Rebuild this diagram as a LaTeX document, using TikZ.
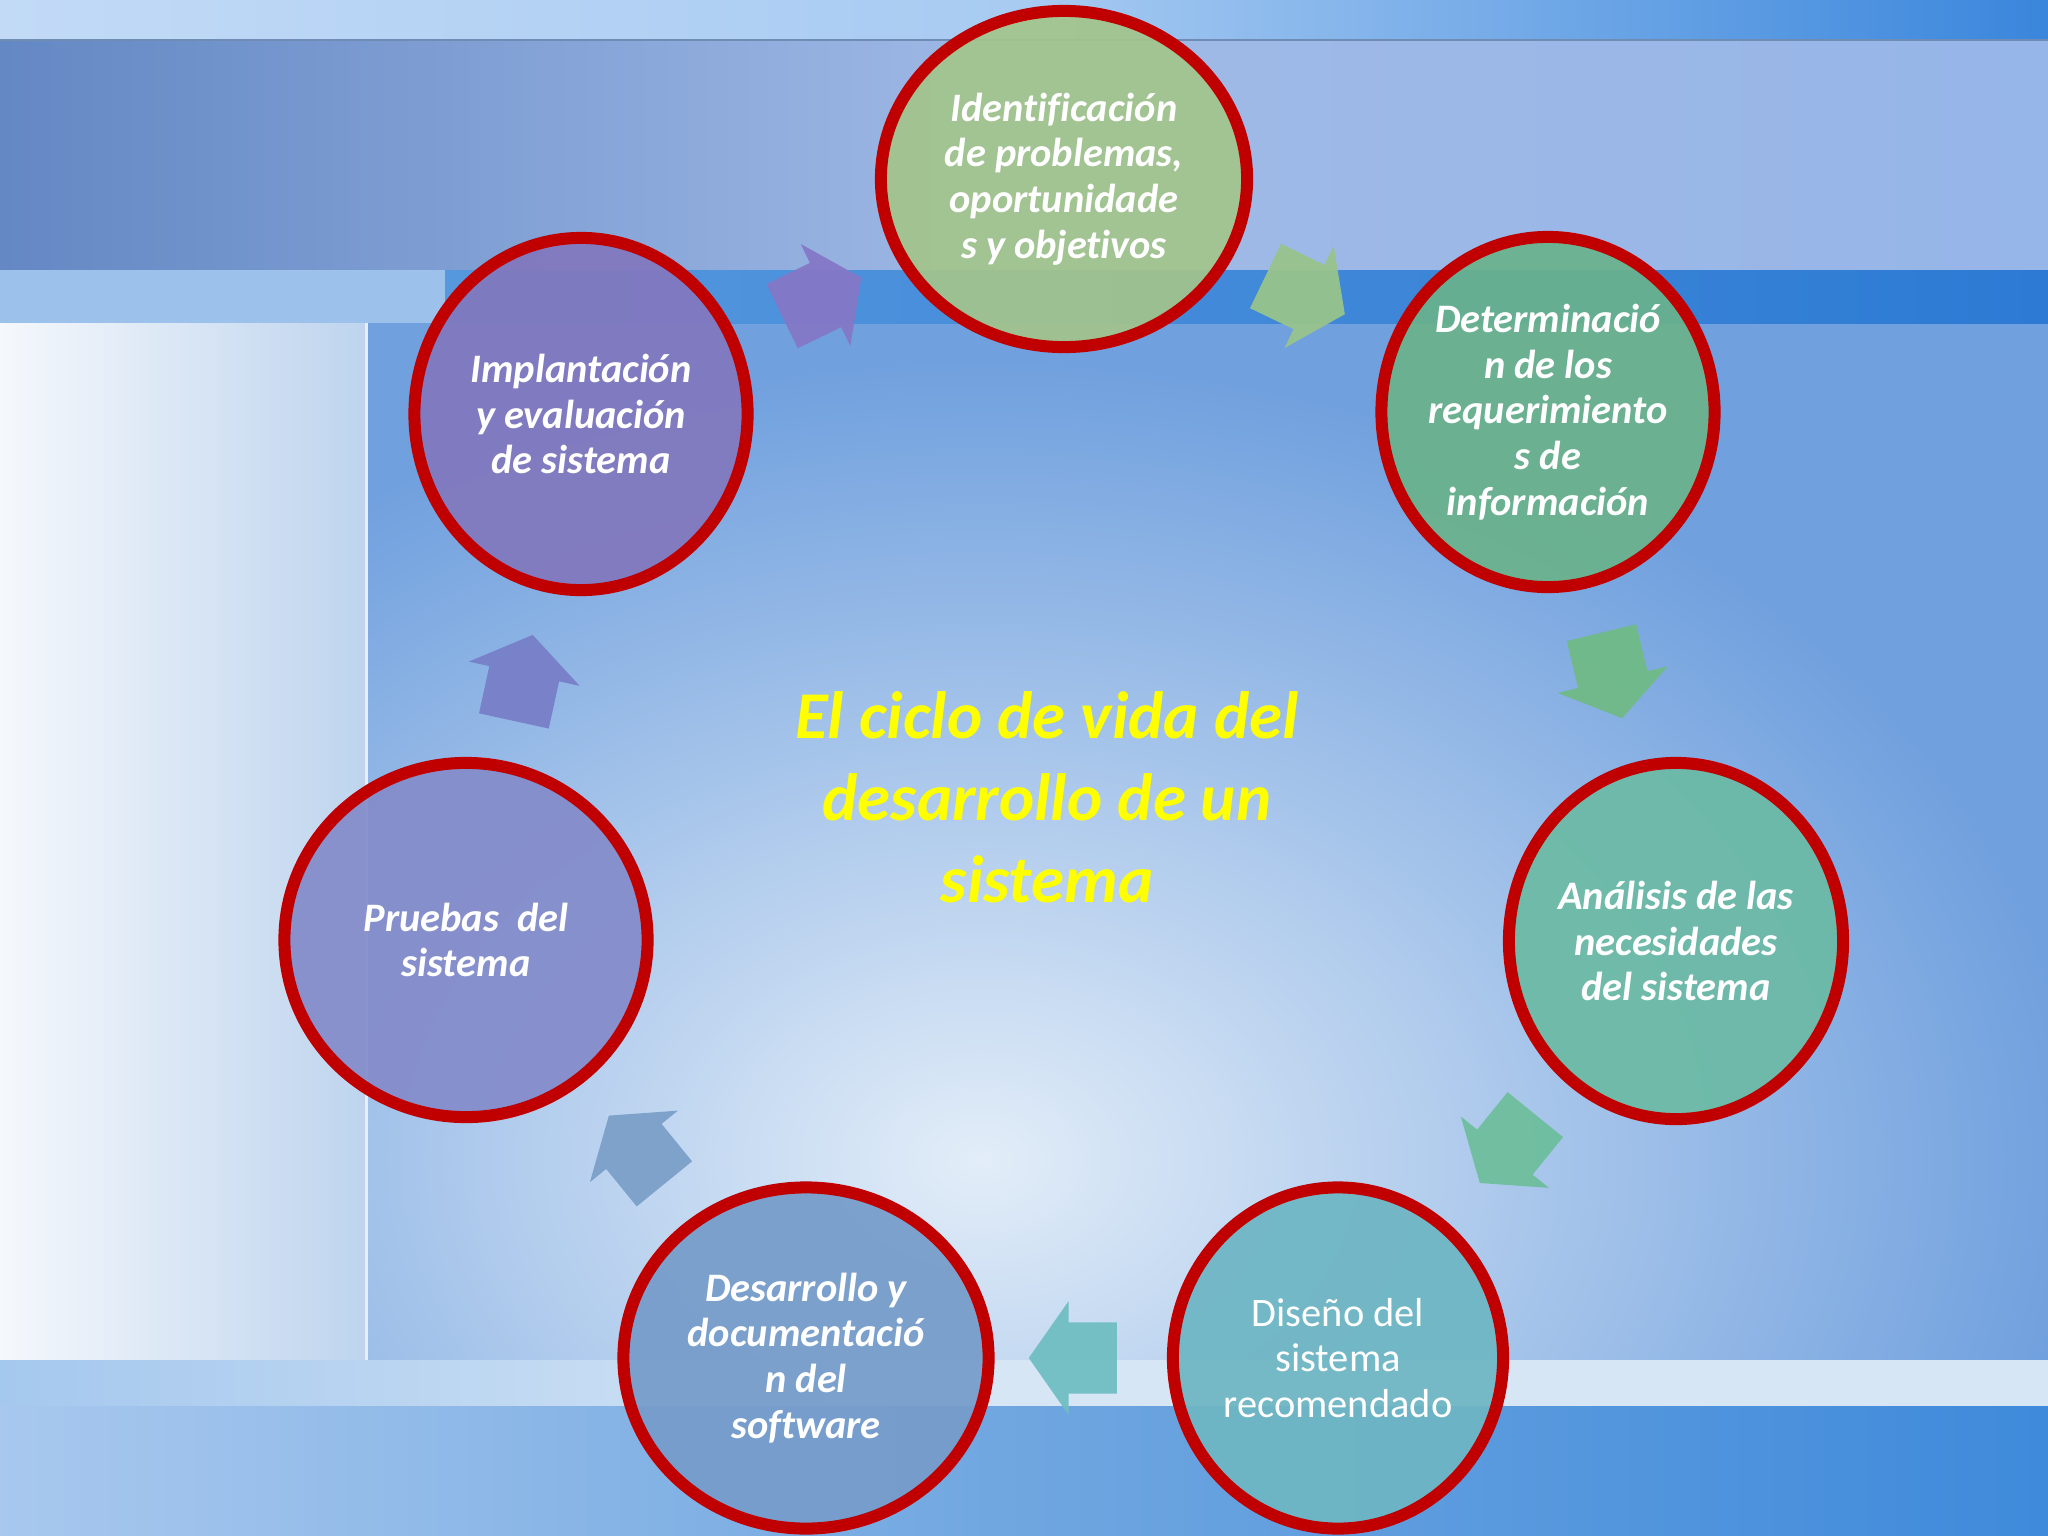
\documentclass[tikz,border=0pt]{standalone}
\usepackage{fontspec}
\setmainfont{Carlito}[Ligatures=NoCommon]
\usetikzlibrary{shapes.geometric,shapes.arrows}

\definecolor{ringred}{RGB}{192,0,0}
\definecolor{stageone}{RGB}{163,196,140}
\definecolor{stagetwo}{RGB}{106,178,140}
\definecolor{stagethree}{RGB}{108,186,165}
\definecolor{stagefour}{RGB}{110,182,196}
\definecolor{stagefive}{RGB}{118,156,202}
\definecolor{stagesix}{RGB}{132,140,202}
\definecolor{stageseven}{RGB}{130,120,190}
\definecolor{arrowseven}{RGB}{132,120,198}
\definecolor{arrowone}{RGB}{152,196,140}
\definecolor{arrowtwo}{RGB}{112,186,134}
\definecolor{arrowthree}{RGB}{110,190,158}
\definecolor{arrowfour}{RGB}{112,190,194}
\definecolor{arrowfive}{RGB}{124,160,202}
\definecolor{arrowsix}{RGB}{120,128,200}
\definecolor{bgmain}{RGB}{112,160,222}
\definecolor{glow}{RGB}{226,237,248}
\definecolor{titleyellow}{RGB}{255,255,0}

\tikzset{
  stage/.style={ellipse, draw=ringred, line width=0.12cm, fill opacity=0.93, inner sep=0pt},
  stagetext/.style={text=white, align=center, font=\bfseries\itshape\fontsize{11.5}{13}\selectfont},
  plaintext/.style={text=white, align=center, font=\fontsize{11.5}{13}\selectfont},
  titletext/.style={text=titleyellow, align=center, font=\bfseries\itshape\fontsize{19}{23.3}\selectfont},
  cyclearrow/.style={single arrow, draw=none, minimum height=0.88cm, inner xsep=0pt, inner ysep=0.35cm,
    single arrow head extend=0.21cm, single arrow head indent=0pt, single arrow tip angle=110,
    sloped, allow upside down, pos=0.475, fill opacity=0.95},
}

\begin{document}
\begin{tikzpicture}[x=0.01cm, y=-0.01cm]
\useasboundingbox (0,0) rectangle (2048,1536);
% fondo
\fill[bgmain] (0,0) rectangle (2048,1536);
\shade[left color={rgb,255:red,194;green,218;blue,246}, right color={rgb,255:red,58;green,134;blue,220}, middle color={rgb,255:red,168;green,203;blue,242}] (0,0) rectangle (2048,40);
\shade[left color={rgb,255:red,100;green,136;blue,196}, right color={rgb,255:red,150;green,181;blue,232}, middle color={rgb,255:red,160;green,186;blue,230}] (0,40) rectangle (2048,270);
\draw[line width=0.02cm, color={rgb,255:red,110;green,140;blue,180}] (0,40) -- (2048,40);
\fill[color={rgb,255:red,156;green,194;blue,236}] (0,270) rectangle (445,323);
\shade[left color={rgb,255:red,86;green,152;blue,222}, right color={rgb,255:red,44;green,122;blue,212}] (445,270) rectangle (2048,323);
\begin{scope}
\clip (366,323) rectangle (2048,1360);
\shade[inner color=glow, outer color=bgmain] (980,1160) ellipse [x radius=11cm, y radius=8cm];
\end{scope}
\shade[left color={rgb,255:red,245;green,248;blue,252}, right color={rgb,255:red,190;green,212;blue,238}] (0,323) rectangle (366,1360);
\draw[line width=0.03cm, color={rgb,255:red,230;green,240;blue,248}] (366,323) -- (366,1360);
\shade[left color={rgb,255:red,165;green,200;blue,238}, right color={rgb,255:red,213;green,229;blue,245}] (0,1360) rectangle (900,1406);
\fill[color={rgb,255:red,215;green,230;blue,245}] (900,1360) rectangle (2048,1406);
\shade[left color={rgb,255:red,168;green,200;blue,238}, right color={rgb,255:red,63;green,138;blue,219}, middle color={rgb,255:red,111;green,166;blue,224}] (0,1406) rectangle (2048,1536);

% etapas del ciclo
\node[stage, fill=stageone, minimum width=3.66cm, minimum height=3.36cm] (c1) at (1064,179) {};
\node[stage, fill=stagetwo, minimum width=3.33cm, minimum height=3.50cm] (c2) at (1548,412) {};
\node[stage, fill=stagethree, minimum width=3.34cm, minimum height=3.56cm] (c3) at (1676,941) {};
\node[stage, fill=stagefour, minimum width=3.30cm, minimum height=3.41cm] (c4) at (1338,1358) {};
\node[stage, fill=stagefive, minimum width=3.65cm, minimum height=3.41cm] (c5) at (806,1358) {};
\node[stage, fill=stagesix, minimum width=3.63cm, minimum height=3.54cm] (c6) at (466,940) {};
\node[stage, fill=stageseven, minimum width=3.33cm, minimum height=3.52cm] (c7) at (581,414) {};

\node[stagetext] (t1) at (c1) {Identificación\\de problemas,\\oportunidade\\s y objetivos};
\node[stagetext] (t2) at (c2) {Determinació\\n de los\\requerimiento\\s de\\información};
\node[stagetext] (t3) at (c3) {Análisis de las\\necesidades\\del sistema};
\node[plaintext] (t4) at (c4) {Diseño del\\sistema\\recomendado};
\node[stagetext] (t5) at (c5) {Desarrollo y\\documentació\\n del\\software};
\node[stagetext] (t6) at (c6) {Pruebas\ \ del\\sistema};
\node[stagetext] (t7) at (c7) {Implantación\\y evaluación\\de sistema};

% flechas
\path (c7.center) -- node[cyclearrow, fill=arrowseven] (a71) {} (c1.center);
\path (c1.center) -- node[cyclearrow, fill=arrowone] (a12) {} (c2.center);
\path (c2.center) -- node[cyclearrow, fill=arrowtwo] (a23) {} (c3.center);
\path (c3.center) -- node[cyclearrow, fill=arrowthree] (a34) {} (c4.center);
\path (c4.center) -- node[cyclearrow, fill=arrowfour] (a45) {} (c5.center);
\path (c5.center) -- node[cyclearrow, fill=arrowfive] (a56) {} (c6.center);
\path (c6.center) -- node[cyclearrow, fill=arrowsix] (a67) {} (c7.center);

\node[titletext] (title) at (1047,797) {El ciclo de vida del\\desarrollo de un\\sistema};
\end{tikzpicture}
\end{document}
